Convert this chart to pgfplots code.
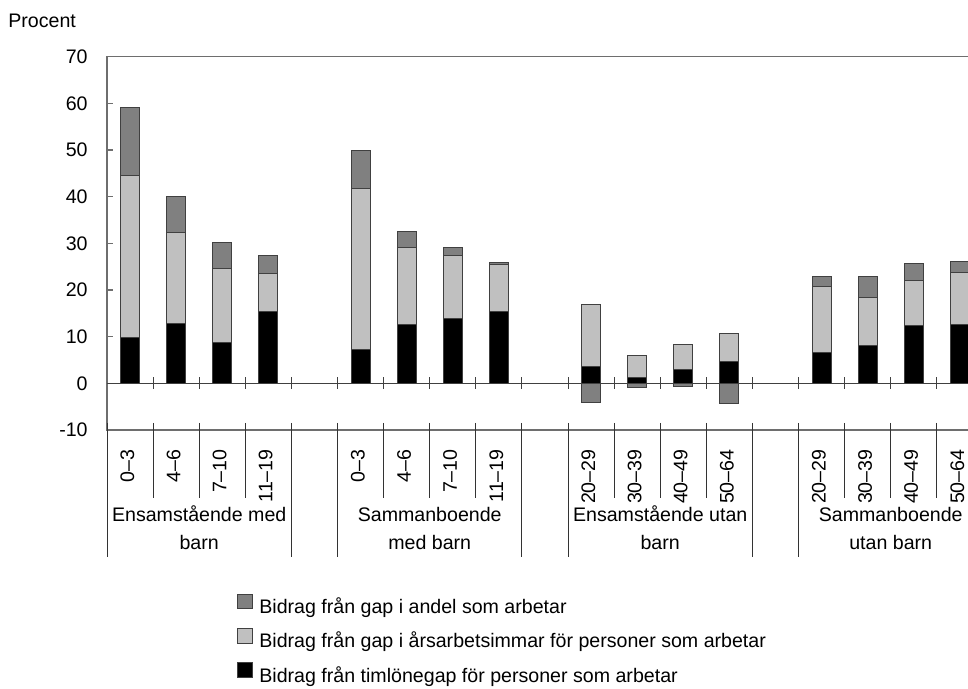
\documentclass[border=0pt]{standalone}
\usepackage{fontspec}
\setmainfont{Liberation Sans}
\usepackage{pgfplots}
\pgfplotsset{compat=1.18}
\usepackage{pgfplotstable}

\definecolor{andelgray}{HTML}{808080}
\definecolor{timmargray}{HTML}{C0C0C0}
\definecolor{axisgray}{HTML}{6E6E6E}

% top edge of each segment (bars are drawn over each other, tallest first)
% andel < 0: the segment below zero
\pgfplotstableread{
x  timlon arstimmar andel
0   9.8   44.6   59.1
1  12.9   32.4   40.0
2   8.8   24.6   30.2
3  15.5   23.6   27.5
5   7.2   41.8   49.9
6  12.7   29.2   32.6
7  13.9   27.4   29.1
8  15.3   25.4   25.9
10  3.6   17.0   -4.1
11  1.2    5.9   -0.8
12  2.9    8.4   -0.6
13  4.7   10.7   -4.3
15  6.6   20.7   22.9
16  8.2   18.4   23.0
17 12.5   22.1   25.7
18 12.7   23.8   26.1
}\gapdata

\pgfplotsset{
  gapbar/.style={bar shift=0pt, draw=black!75, line width=0.5pt,
    legend image code/.code={\draw[##1, draw=black!75, line width=0.5pt] (0pt,-0.2pt) rectangle (7.5pt,7.2pt);}},
}

\begin{document}
\fontsize{9.8pt}{12pt}\selectfont
\begin{tikzpicture}
\begin{axis}[
  at={(0pt,0pt)}, anchor=north west,
  scale only axis,
  width=437.95pt, height=186.65pt,
  clip=false,
  xmin=-0.5, xmax=18.5,
  ymin=-10, ymax=70,
  ytick={-10,0,10,20,30,40,50,60,70},
  ytick pos=left,
  tick align=inside,
  major tick length=3pt,
  ytick style={draw=axisgray, line width=0.6pt},
  xtick={0,...,18},
  xticklabels={0–3,4–6,7–10,11–19,{},0–3,4–6,7–10,11–19,{},20–29,30–39,40–49,50–64,{},20–29,30–39,40–49,50–64},
  xtick style={draw=none},
  xticklabel shift=6.5pt,
  xticklabel style={rotate=90, anchor=east, inner sep=0pt, yshift=1.3pt},
  yticklabel style={anchor=east, inner sep=0pt, xshift=-9.5pt},
  /pgf/number format/assume math mode=true,
  axis line style={draw=axisgray, line width=0.65pt},
  ybar, bar width=9.5pt,
  legend cell align=left,
  legend style={at={(axis description cs:0.1484,-0.438)}, anchor=north west,
    draw=none, fill=none, inner sep=0pt, outer sep=0pt,
    row sep=4.25pt, column sep=2.2pt,
    nodes={inner sep=1pt, text height=7pt, text depth=2pt}},
]
\addplot[gapbar, fill=andelgray] table[x=x, y=andel] {\gapdata};
\addlegendentry{Bidrag från gap i andel som arbetar}
\addplot[gapbar, fill=timmargray] table[x=x, y=arstimmar] {\gapdata};
\addlegendentry{Bidrag från gap i årsarbetsimmar för personer som arbetar}
\addplot[gapbar, fill=black] table[x=x, y=timlon] {\gapdata};
\addlegendentry{Bidrag från timlönegap för personer som arbetar}

% zero line with small ticks
\draw[black!75, line width=0.5pt] (axis cs:-0.5,0) -- (axis cs:18.5,0);
\pgfplotsinvokeforeach{0.5,1.5,...,17.5}{
  \draw[black!75, line width=0.5pt] (axis cs:#1,0) ++(0pt,3pt) -- ++(0pt,-6pt);
}
% category separators under the axis
\pgfplotsinvokeforeach{0.5,1.5,2.5,5.5,6.5,7.5,10.5,11.5,12.5,15.5,16.5,17.5}{
  \draw[black!80, line width=0.5pt] (axis cs:#1,-10) ++(0pt,3.5pt) -- ++(0pt,-37.5pt);
}
\pgfplotsinvokeforeach{-0.5,3.5,4.5,8.5,9.5,13.5,14.5,18.5}{
  \draw[black!80, line width=0.5pt] (axis cs:#1,-10) ++(0pt,3.5pt) -- ++(0pt,-67pt);
}
% group names
\node[anchor=base, inner sep=0pt, yshift=-46pt] at (axis cs:1.5,-10) {Ensamstående med};
\node[anchor=base, inner sep=0pt, yshift=-59.75pt] at (axis cs:1.5,-10) {barn};
\node[anchor=base, inner sep=0pt, yshift=-46pt] at (axis cs:6.5,-10) {Sammanboende};
\node[anchor=base, inner sep=0pt, yshift=-59.75pt] at (axis cs:6.5,-10) {med barn};
\node[anchor=base, inner sep=0pt, yshift=-46pt] at (axis cs:11.5,-10) {Ensamstående utan};
\node[anchor=base, inner sep=0pt, yshift=-59.75pt] at (axis cs:11.5,-10) {barn};
\node[anchor=base, inner sep=0pt, yshift=-46pt] at (axis cs:16.5,-10) {Sammanboende};
\node[anchor=base, inner sep=0pt, yshift=-59.75pt] at (axis cs:16.5,-10) {utan barn};
\end{axis}
\node[anchor=base west, inner sep=0pt] at (-49.5pt,14.35pt) {Procent};
\pgfresetboundingbox
\path[use as bounding box] (-53.5pt,28.35pt) rectangle (430.5pt,-316.15pt);
\end{tikzpicture}
\end{document}
